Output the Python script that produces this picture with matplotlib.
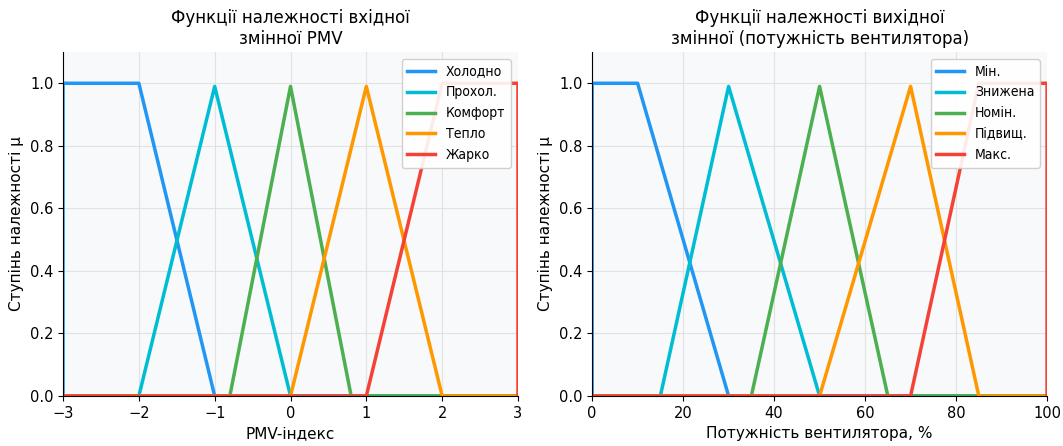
import matplotlib.pyplot as plt
from matplotlib.font_manager import FontProperties

# Вхідна змінна PMV: точки зламу функцій належності
pmv_names = ['Холодно', 'Прохол.', 'Комфорт', 'Тепло', 'Жарко']
pmv_x = [
    [-3, -3, -2, -1, 3],
    [-3, -2, -1, 0, 3],
    [-3, -0.8, 0, 0.8, 3],
    [-3, 0, 1, 2, 3],
    [-3, 1, 2, 3, 3],
]
pmv_mu = [
    [0, 1, 1, 0, 0],
    [0, 0, 0.99, 0, 0],
    [0, 0, 0.99, 0, 0],
    [0, 0, 0.99, 0, 0],
    [0, 0, 1, 1, 0],
]

# Вихідна змінна: потужність вентилятора, %
fan_names = ['Мін.', 'Знижена', 'Номін.', 'Підвищ.', 'Макс.']
fan_x = [
    [0, 0, 10, 30, 100],
    [0, 15, 30, 50, 100],
    [0, 35, 50, 65, 100],
    [0, 50, 70, 85, 100],
    [0, 70, 85, 100, 100],
]
fan_mu = [
    [0, 1, 1, 0, 0],
    [0, 0, 0.99, 0, 0],
    [0, 0, 0.99, 0, 0],
    [0, 0, 0.99, 0, 0],
    [0, 0, 1, 1, 0],
]

colors = ['#2196F3', '#00BCD4', '#4CAF50', '#FF9800', '#F44336']

legend_font = FontProperties(family='DejaVu Sans', stretch='condensed', size=10)


def plot_mf(ax, xs, mus, names, title, xlabel, xlim):
    ax.set_facecolor('#f8f9fa')
    for x, mu, name, c in zip(xs, mus, names, colors):
        ax.plot(x, mu, color=c, lw=2.5, label=name)
    ax.set_xlim(*xlim)
    ax.set_ylim(0, 1.1)
    ax.set_title(title, fontsize=12)
    ax.set_xlabel(xlabel, fontsize=11)
    ax.set_ylabel('Ступінь належності µ', fontsize=11)
    ax.grid(True, color='#dddddd', lw=0.8, alpha=0.8)
    ax.set_axisbelow(True)
    ax.spines['top'].set_visible(False)
    ax.spines['right'].set_visible(False)
    ax.tick_params(labelsize=10.5)
    ax.legend(loc='upper right', framealpha=0.9, prop=legend_font)


fig, axes = plt.subplots(1, 2, figsize=(10.63, 4.46), dpi=100)
fig.subplots_adjust(left=0.0593, right=0.985, top=0.8834, bottom=0.1121,
                    wspace=0.163)

plot_mf(axes[0], pmv_x, pmv_mu, pmv_names,
        'Функції належності вхідної\nзмінної PMV', 'PMV-індекс', (-3, 3))
plot_mf(axes[1], fan_x, fan_mu, fan_names,
        'Функції належності вихідної\nзмінної (потужність вентилятора)',
        'Потужність вентилятора, %', (0, 100))

fig.savefig('out.png', dpi=100)
